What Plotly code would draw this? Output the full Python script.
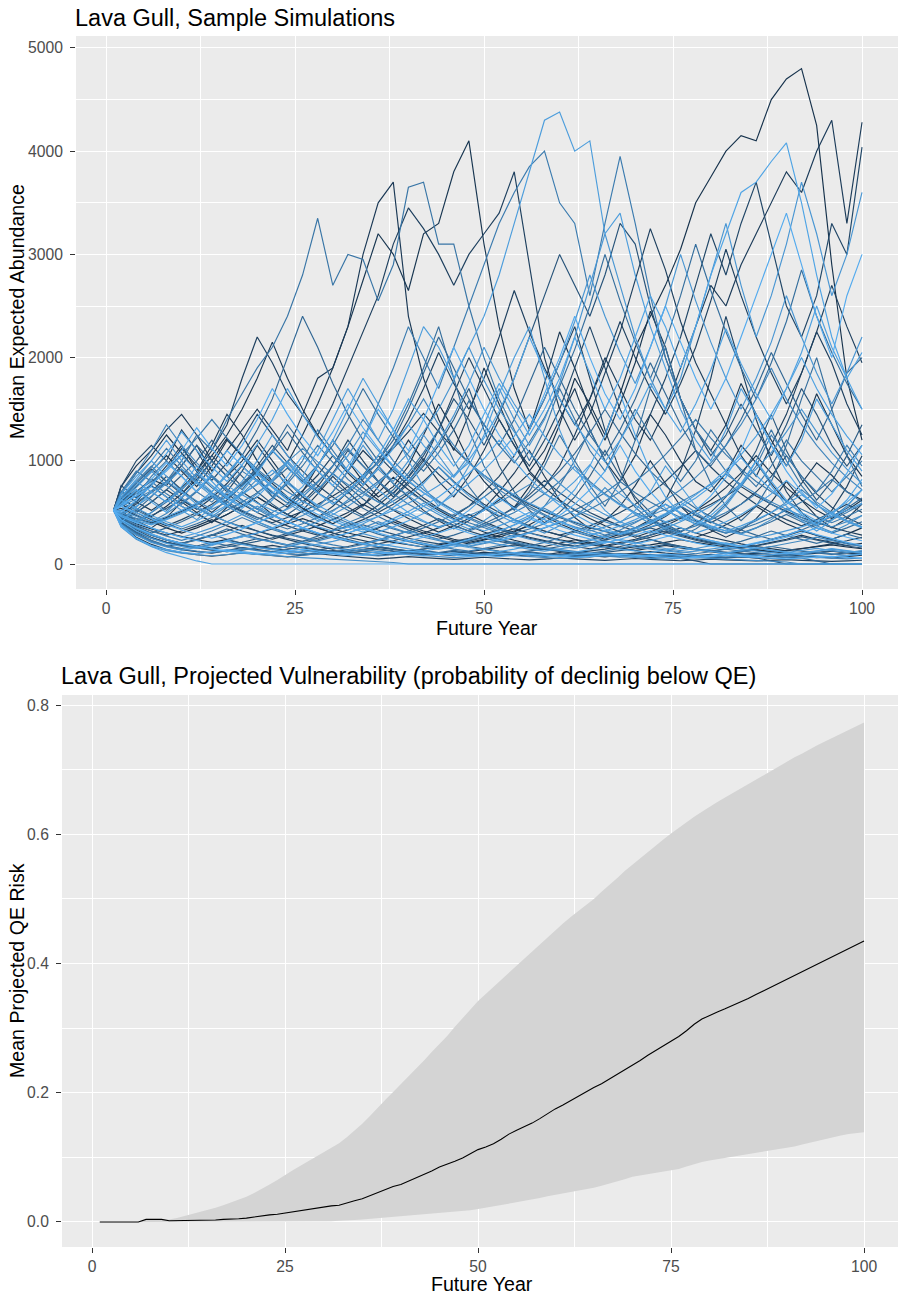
import plotly.graph_objects as go

# ---------------- data: sample simulations (top panel) ----------------
sim_years = [1, 2, 4, 6, 8, 10, 12, 14, 16, 18, 20, 22, 24, 26, 28, 30, 32, 34, 36, 38, 40,
             42, 44, 46, 48, 50, 52, 54, 56, 58, 60, 62, 64, 66, 68, 70, 72, 74, 76, 78, 80,
             82, 84, 86, 88, 90, 92, 94, 96, 98, 100]

sim_h01 = [520, 600, 750, 900, 1050, 900, 750, 950, 1200, 1050, 850,
           650, 550, 700, 950, 1200, 1000, 800, 650, 750, 950,
           1250, 1550, 1300, 1000, 800, 650, 550, 750, 1000, 1350,
           1800, 1550, 1250, 1650, 2100, 2400, 2700, 3050, 3500, 3750,
           4000, 4150, 4100, 4500, 4700, 4800, 4250, 2900, 1800, 1200]
sim_h02 = [520, 580, 700, 820, 760, 950, 1150, 900, 1100, 1300, 1500,
           1300, 1100, 1450, 1800, 1900, 2300, 3000, 3500, 3700, 2400,
           1800, 1400, 1100, 1450, 1900, 1550, 1200, 900, 1100, 1400,
           1700, 1300, 1000, 800, 1050, 1450, 1250, 1000, 800, 700,
           880, 1150, 980, 780, 600, 780, 980, 860, 700, 620]
sim_h03 = [520, 680, 880, 1050, 1250, 1080, 900, 1150, 1450, 1250, 1000,
           800, 980, 1250, 1550, 1900, 2300, 2750, 3200, 3000, 2650,
           3200, 3300, 3800, 4100, 3100, 2300, 1700, 1300, 1750, 2250,
           1900, 1500, 1200, 1550, 1950, 2450, 2100, 1600, 1300, 1100,
           1350, 1750, 1450, 1200, 950, 1250, 1650, 1350, 1050, 850]
sim_h04 = [520, 450, 600, 780, 950, 1150, 900, 1100, 1350, 1800, 2200,
           1950, 1650, 1450, 1250, 1550, 1900, 2250, 2600, 3100, 3450,
           3250, 3000, 2700, 3000, 3200, 3400, 3800, 2900, 2000, 1500,
           1200, 1450, 1850, 2250, 2750, 3250, 2850, 2350, 1950, 1650,
           1350, 1050, 850, 1150, 1450, 1850, 2250, 1950, 1550, 1250]
sim_h05 = [520, 620, 800, 950, 800, 1000, 1250, 1100, 1400, 1650, 1900,
           2100, 2400, 2800, 3350, 2700, 3000, 2950, 2550, 2900, 3650,
           3700, 3100, 3100, 2500, 2000, 1600, 1300, 1000, 1300, 1700,
           1400, 1100, 900, 1200, 1500, 1250, 1000, 800, 1000, 1300,
           1100, 900, 750, 950, 1200, 1000, 850, 700, 850, 1000]
sim_h06 = [520, 400, 550, 700, 600, 750, 950, 800, 650, 800, 1000,
           1250, 1050, 850, 1100, 1400, 1700, 1450, 1200, 1500, 1900,
           2300, 2100, 1800, 2100, 2400, 2800, 3300, 3800, 4300, 4380,
           4000, 4100, 3200, 3400, 2800, 2300, 1900, 1500, 1200, 1000,
           1300, 1700, 1450, 1150, 950, 1200, 1600, 1350, 1100, 900]
sim_h07 = [520, 700, 650, 850, 1000, 850, 700, 600, 750, 900, 800,
           650, 800, 1000, 1300, 1100, 900, 1200, 1550, 1900, 2300,
           2000, 1700, 2100, 2500, 2900, 3300, 3600, 3850, 4000, 3500,
           3300, 2600, 3300, 3950, 3300, 2600, 2000, 1600, 1300, 1100,
           900, 750, 950, 1250, 1050, 850, 700, 900, 1150, 950]
sim_h08 = [520, 500, 420, 350, 450, 600, 500, 400, 550, 700, 600,
           480, 400, 520, 680, 850, 700, 560, 750, 950, 1200,
           1000, 800, 650, 850, 1100, 1400, 1150, 900, 750, 950,
           1250, 1600, 2000, 1700, 1400, 1200, 1500, 1900, 2300, 2700,
           2500, 2900, 3200, 3500, 3800, 3600, 4000, 4300, 3300, 4280]
sim_h09 = [520, 750, 1000, 1150, 1000, 1300, 1100, 850, 700, 900, 1150,
           950, 750, 600, 750, 950, 1200, 1000, 800, 650, 800,
           1000, 1300, 1650, 2000, 1700, 1400, 1150, 950, 1200, 1500,
           1900, 2300, 1900, 1500, 1200, 1450, 1800, 2200, 2700, 3200,
           2800, 3300, 3700, 3100, 2500, 2200, 2600, 3300, 3000, 4040]
sim_h10 = [520, 580, 720, 600, 500, 650, 800, 680, 560, 700, 880,
           1100, 950, 780, 950, 1200, 1000, 850, 1050, 1300, 1600,
           1400, 1150, 950, 1150, 1450, 1750, 1500, 1250, 1500, 1800,
           2200, 1850, 1500, 1800, 2200, 2600, 2300, 1900, 2300, 2800,
           3200, 3600, 3700, 3900, 4080, 3500, 2800, 2200, 1800, 1500]
sim_h11 = [520, 480, 400, 500, 620, 520, 430, 550, 700, 600, 500,
           620, 800, 680, 550, 700, 900, 1150, 950, 800, 1000,
           1250, 1050, 850, 1050, 1350, 1700, 1400, 1150, 1400, 1750,
           2200, 2700, 3200, 2700, 2200, 1800, 1500, 1800, 2300, 2800,
           3300, 2700, 2200, 2600, 3100, 3700, 3200, 2600, 3000, 3600]
sim_h12 = [520, 620, 780, 920, 800, 680, 850, 1050, 900, 750, 950,
           1150, 980, 820, 700, 880, 1100, 950, 800, 680, 850,
           1050, 1300, 1600, 1400, 1150, 1450, 1800, 2200, 2600, 3000,
           2700, 2400, 2800, 3300, 3100, 2500, 2000, 1600, 1300, 1050,
           1250, 1550, 1300, 1050, 1350, 1700, 1450, 1150, 950, 1150]
sim_h13 = [520, 560, 680, 820, 980, 850, 700, 880, 1100, 950, 800,
           680, 850, 1050, 900, 760, 950, 1200, 1500, 1300, 1100,
           1400, 1750, 2100, 1800, 1500, 1250, 1050, 1300, 1650, 2000,
           2400, 2000, 1650, 1400, 1700, 2100, 2500, 2150, 1800, 1500,
           1800, 2200, 2600, 3000, 3400, 2900, 2400, 2000, 2600, 3000]
sim_h14 = [520, 440, 520, 650, 800, 950, 1150, 1000, 850, 1050, 1300,
           1600, 2000, 2400, 2100, 1750, 1450, 1200, 1000, 1200, 1500,
           1850, 2200, 1900, 1600, 1350, 1150, 1400, 1750, 2100, 1800,
           1500, 1250, 1050, 1300, 1600, 1950, 1650, 1350, 1100, 950,
           1150, 1400, 1700, 2050, 1750, 1450, 1200, 1500, 1850, 2000]

sim_m01 = [520, 750, 950, 1100, 1300, 1450, 1250, 1000, 850, 1000, 1200,
           1000, 800, 650, 550, 700, 900, 1100, 950, 780, 650,
           520, 420, 340, 420, 540, 700, 880, 1100, 850, 620,
           450, 340, 420, 560, 760, 1000, 780, 560, 420, 330,
           260, 330, 440, 600, 800, 620, 460, 350, 440, 580]
sim_m02 = [520, 680, 850, 1000, 850, 700, 580, 700, 880, 1050, 900,
           750, 620, 750, 950, 1200, 1500, 1800, 1550, 1300, 1000,
           750, 560, 700, 950, 1250, 1650, 2000, 2300, 1800, 1300,
           950, 700, 520, 400, 520, 700, 950, 750, 560, 430,
           560, 760, 1000, 760, 560, 420, 320, 420, 560, 720]
sim_m03 = [520, 600, 720, 620, 520, 640, 800, 1000, 850, 720, 900,
           1100, 1350, 1150, 950, 800, 680, 820, 1000, 1250, 1550,
           1900, 2300, 1800, 1300, 950, 700, 520, 700, 950, 1250,
           1000, 760, 560, 800, 1200, 1700, 2100, 1600, 1100, 780,
           560, 420, 560, 800, 1150, 1600, 2000, 1500, 1050, 750]
sim_m04 = [520, 480, 580, 700, 850, 720, 600, 500, 620, 760, 900,
           780, 650, 540, 450, 560, 700, 860, 1050, 900, 760,
           640, 540, 460, 560, 700, 850, 1050, 1300, 1600, 1950,
           2300, 1800, 1300, 900, 620, 450, 620, 900, 1300, 1800,
           2400, 1900, 1400, 1000, 700, 500, 380, 520, 750, 1050]
sim_m05 = [520, 560, 660, 780, 900, 1050, 900, 760, 640, 540, 650,
           800, 980, 820, 690, 580, 700, 860, 720, 600, 500,
           420, 350, 420, 520, 650, 520, 420, 350, 440, 560,
           720, 950, 1250, 1650, 1250, 900, 650, 480, 380, 470,
           600, 780, 1000, 800, 620, 480, 380, 480, 620, 820]
sim_m06 = [520, 420, 500, 600, 720, 860, 1000, 1200, 1000, 850, 700,
           580, 480, 580, 720, 880, 750, 630, 520, 640, 780,
           950, 1150, 1400, 1700, 1300, 950, 700, 520, 400, 500,
           650, 850, 1100, 850, 650, 500, 390, 310, 390, 500,
           650, 850, 1100, 1450, 1100, 820, 620, 800, 1050, 1350]
sim_m07 = [520, 620, 760, 900, 760, 640, 540, 460, 560, 680, 820,
           700, 590, 500, 420, 510, 620, 760, 920, 780, 660,
           560, 480, 400, 340, 420, 520, 430, 360, 300, 370,
           460, 580, 740, 600, 480, 390, 480, 600, 500, 410,
           340, 290, 350, 430, 540, 450, 370, 310, 380, 470]
sim_m08 = [520, 700, 900, 800, 680, 580, 700, 850, 720, 620, 530,
           640, 780, 950, 1150, 980, 820, 700, 600, 720, 880,
           1080, 1300, 1000, 750, 560, 420, 330, 420, 560, 760,
           1000, 1300, 1000, 740, 550, 420, 330, 270, 340, 440,
           580, 760, 1000, 1300, 1000, 760, 580, 450, 560, 720]
sim_m09 = [520, 640, 540, 460, 560, 680, 820, 1000, 1220, 1040, 880,
           750, 640, 540, 460, 390, 470, 570, 690, 840, 720,
           610, 520, 440, 370, 310, 260, 310, 380, 460, 390,
           330, 280, 240, 290, 350, 430, 360, 300, 260, 310,
           380, 460, 560, 470, 390, 330, 280, 240, 290, 350]
sim_m10 = [520, 500, 620, 760, 920, 1100, 1320, 1120, 950, 1150, 1400,
           1700, 1450, 1230, 1050, 1280, 1550, 1320, 1120, 950, 810,
           690, 590, 500, 430, 520, 640, 540, 460, 390, 470,
           580, 720, 900, 1150, 900, 700, 540, 420, 520, 660,
           840, 1100, 1450, 1150, 900, 700, 540, 680, 880, 1150]
sim_m11 = [520, 760, 640, 760, 920, 1120, 950, 810, 980, 1200, 1450,
           1250, 1050, 900, 760, 650, 550, 470, 570, 690, 840,
           1020, 870, 740, 630, 540, 460, 550, 670, 810, 690,
           590, 500, 430, 370, 320, 380, 460, 560, 470, 400,
           480, 580, 700, 850, 1050, 850, 680, 550, 450, 380]
sim_m12 = [520, 560, 480, 410, 490, 590, 710, 860, 730, 620, 530,
           450, 540, 650, 790, 950, 1150, 1400, 1200, 1000, 850,
           720, 610, 520, 440, 370, 320, 380, 450, 540, 460,
           390, 330, 280, 330, 400, 480, 580, 490, 410, 350,
           300, 350, 420, 500, 600, 720, 600, 500, 420, 360]

sim_x01 = [520, 650, 800, 700, 600, 720, 880, 760, 650, 560, 680,
           820, 1000, 850, 720, 870, 1050, 1280, 1100, 940, 800,
           970, 1180, 1440, 1750, 2100, 1800, 1550, 1330, 1600, 1950,
           2350, 2800, 2400, 2050, 1750, 2100, 2500, 3000, 2550, 2150,
           1800, 1500, 1800, 2150, 2600, 2200, 1850, 1550, 1850, 2200]
sim_x02 = [520, 580, 500, 600, 720, 620, 530, 640, 780, 950, 810,
           690, 590, 710, 860, 1050, 900, 770, 940, 1150, 1400,
           1700, 2050, 1750, 1500, 1800, 2200, 2650, 2250, 1900, 1600,
           1350, 1600, 1950, 2350, 2000, 1700, 1450, 1750, 2100, 2550,
           3050, 2600, 2200, 1850, 1550, 1850, 2250, 2700, 2300, 1950]
sim_x03 = [520, 500, 420, 500, 600, 720, 870, 740, 630, 760, 920,
           1100, 940, 800, 960, 1150, 1400, 1700, 1450, 1230, 1050,
           900, 1080, 1300, 1580, 1350, 1150, 980, 1180, 1420, 1720,
           2080, 2500, 3000, 2550, 2150, 1800, 2150, 2600, 3100, 2650,
           2250, 1900, 1600, 1950, 2350, 2850, 2400, 2050, 1750, 1500]
sim_x04 = [520, 620, 740, 890, 1070, 1280, 1100, 940, 800, 960, 1160,
           1400, 1700, 1450, 1230, 1050, 900, 770, 930, 1120, 1350,
           1150, 980, 840, 1010, 1220, 1480, 1800, 2200, 1870, 1600,
           1360, 1160, 990, 1200, 1450, 1750, 1500, 1280, 1550, 1880,
           2280, 1940, 1650, 1400, 1700, 2050, 2500, 2100, 1800, 2050]

sim_n01 = [520, 470, 420, 380, 430, 490, 560, 480, 410, 350, 400,
           460, 530, 610, 520, 440, 380, 330, 380, 440, 510,
           590, 500, 430, 370, 320, 370, 430, 500, 430, 370,
           320, 280, 320, 370, 430, 500, 580, 500, 430, 370,
           320, 370, 430, 500, 580, 670, 570, 490, 420, 360]
sim_n02 = [520, 600, 520, 450, 390, 340, 390, 450, 520, 600, 690,
           800, 930, 800, 690, 600, 520, 450, 390, 340, 300,
           350, 410, 480, 560, 650, 760, 650, 560, 480, 410,
           350, 300, 260, 300, 350, 410, 480, 560, 480, 410,
           350, 300, 350, 410, 480, 410, 350, 300, 350, 410]
sim_n03 = [520, 440, 370, 320, 280, 320, 370, 430, 370, 320, 280,
           240, 280, 320, 370, 430, 500, 580, 500, 430, 370,
           320, 280, 240, 210, 240, 280, 320, 370, 320, 280,
           240, 210, 180, 210, 240, 280, 320, 280, 240, 210,
           180, 160, 180, 210, 240, 280, 240, 210, 180, 200]
sim_n04 = [520, 580, 660, 750, 650, 560, 480, 560, 650, 750, 870,
           750, 650, 560, 480, 420, 360, 310, 360, 420, 480,
           560, 650, 760, 880, 1020, 1200, 1000, 830, 690, 570,
           480, 400, 340, 290, 340, 400, 470, 550, 640, 750,
           880, 1030, 860, 720, 600, 500, 420, 500, 600, 720]
sim_n05 = [520, 460, 410, 470, 540, 620, 540, 470, 410, 360, 320,
           280, 250, 220, 250, 290, 330, 380, 330, 290, 250,
           220, 195, 220, 250, 290, 330, 290, 250, 220, 195,
           175, 200, 230, 265, 305, 350, 305, 265, 230, 200,
           175, 155, 175, 200, 230, 265, 230, 200, 175, 155]
sim_n06 = [520, 380, 280, 210, 165, 135, 160, 190, 230, 275, 240,
           210, 185, 165, 190, 220, 255, 295, 255, 220, 190,
           165, 145, 165, 190, 220, 190, 165, 145, 125, 145,
           165, 190, 220, 190, 165, 145, 125, 110, 125, 145,
           165, 145, 125, 110, 95, 110, 125, 145, 125, 110]
sim_n07 = [520, 520, 600, 690, 800, 920, 800, 690, 600, 520, 450,
           390, 340, 390, 450, 520, 600, 690, 800, 920, 800,
           690, 600, 520, 450, 390, 340, 300, 340, 390, 450,
           520, 600, 690, 800, 690, 600, 520, 450, 390, 340,
           300, 340, 390, 450, 520, 600, 700, 820, 700, 600]
sim_n08 = [520, 400, 310, 250, 210, 180, 155, 135, 120, 135, 155,
           180, 155, 135, 120, 105, 120, 140, 160, 140, 120,
           105, 92, 105, 120, 140, 160, 185, 160, 140, 120,
           105, 92, 80, 92, 105, 120, 105, 92, 80, 70,
           80, 92, 105, 92, 80, 70, 62, 70, 80, 92]
sim_n09 = [520, 460, 400, 350, 300, 260, 225, 195, 225, 260, 300,
           350, 410, 350, 300, 260, 225, 195, 170, 195, 225,
           260, 300, 350, 300, 260, 225, 260, 300, 350, 410,
           350, 300, 260, 225, 195, 225, 260, 300, 260, 225,
           195, 170, 195, 225, 260, 300, 350, 300, 260, 225]
sim_n10 = [520, 640, 780, 940, 1120, 950, 800, 680, 580, 500, 430,
           500, 580, 680, 800, 950, 1120, 950, 800, 680, 580,
           500, 430, 370, 320, 370, 430, 500, 580, 680, 800,
           950, 800, 680, 580, 500, 430, 370, 320, 370, 430,
           500, 580, 680, 580, 500, 430, 370, 430, 500, 580]
sim_n11 = [520, 580, 500, 430, 370, 430, 500, 580, 680, 580, 500,
           430, 370, 320, 280, 320, 370, 430, 500, 580, 680,
           800, 940, 800, 680, 580, 500, 430, 370, 320, 280,
           320, 370, 430, 500, 580, 680, 800, 940, 1100, 940,
           800, 680, 580, 500, 430, 370, 430, 500, 580, 500]
sim_n12 = [520, 420, 340, 280, 230, 190, 160, 140, 120, 140, 160,
           140, 120, 105, 92, 105, 120, 140, 120, 105, 92,
           80, 70, 62, 70, 80, 92, 80, 70, 62, 55,
           62, 70, 80, 70, 62, 55, 48, 55, 62, 55,
           48, 42, 36, 30, 20, 0, 0, 0, 0, 0]

sim_p01 = [520, 650, 820, 1000, 1200, 1000, 830, 700, 860, 1050, 880,
           740, 620, 520, 440, 380, 330, 390, 460, 550, 650,
           780, 940, 790, 660, 560, 470, 400, 470, 560, 670,
           800, 960, 810, 680, 570, 480, 410, 350, 300, 350,
           410, 480, 570, 680, 810, 680, 570, 480, 410, 350]
sim_p02 = [520, 430, 360, 300, 350, 410, 480, 560, 660, 780, 920,
           1080, 1280, 1080, 900, 760, 640, 540, 460, 390, 330,
           280, 240, 280, 330, 390, 460, 540, 640, 760, 900,
           1070, 1270, 1500, 1270, 1070, 900, 760, 640, 540, 460,
           390, 330, 280, 240, 280, 330, 390, 460, 540, 640]
sim_p03 = [520, 360, 250, 180, 140, 115, 100, 118, 140, 120, 104,
           92, 108, 128, 110, 96, 84, 100, 118, 102, 90,
           78, 92, 108, 94, 82, 72, 85, 100, 88, 76,
           90, 106, 92, 80, 70, 82, 96, 84, 74, 86,
           100, 88, 77, 90, 105, 92, 80, 70, 82, 96]
sim_p04 = [520, 700, 600, 520, 620, 740, 880, 1050, 1250, 1500, 1800,
           2150, 1800, 1500, 1250, 1050, 880, 740, 620, 520, 440,
           370, 310, 370, 440, 520, 620, 740, 880, 740, 620,
           520, 440, 370, 310, 260, 310, 370, 440, 520, 620,
           740, 880, 1050, 880, 740, 620, 520, 440, 520, 620]
sim_p05 = [520, 480, 560, 660, 780, 920, 780, 660, 560, 480, 410,
           350, 300, 350, 410, 480, 560, 660, 780, 920, 1080,
           1280, 1500, 1780, 2100, 1780, 1500, 1280, 1080, 920, 780,
           660, 560, 480, 410, 350, 300, 350, 410, 480, 560,
           660, 780, 920, 1080, 1280, 1500, 1280, 1080, 920, 780]
sim_p06 = [520, 380, 280, 215, 170, 200, 240, 285, 240, 200, 170,
           145, 170, 200, 235, 275, 235, 200, 170, 145, 125,
           145, 170, 200, 170, 145, 125, 108, 125, 145, 170,
           200, 235, 275, 320, 275, 235, 200, 170, 145, 125,
           108, 125, 145, 170, 145, 125, 108, 93, 108, 125]
sim_p07 = [520, 620, 540, 470, 410, 360, 420, 490, 570, 670, 780,
           910, 780, 670, 570, 490, 420, 360, 310, 360, 420,
           490, 570, 670, 780, 910, 1060, 1240, 1450, 1240, 1060,
           910, 780, 670, 570, 490, 420, 490, 570, 670, 780,
           910, 1060, 1240, 1450, 1700, 2000, 1700, 1450, 1240, 1060]
sim_p08 = [520, 420, 340, 280, 235, 200, 235, 275, 320, 375, 320,
           275, 235, 200, 170, 145, 170, 200, 235, 275, 320,
           375, 440, 375, 320, 275, 235, 200, 170, 145, 125,
           108, 125, 145, 170, 200, 235, 200, 170, 145, 125,
           145, 170, 200, 235, 275, 320, 275, 235, 200, 170]
sim_p09 = [520, 560, 630, 710, 800, 700, 610, 530, 600, 680, 770,
           870, 990, 1120, 990, 870, 770, 680, 600, 530, 470,
           410, 360, 410, 470, 530, 600, 680, 770, 680, 600,
           530, 470, 410, 360, 410, 470, 530, 600, 680, 770,
           870, 770, 680, 600, 530, 470, 410, 360, 410, 470]
sim_p10 = [520, 480, 440, 400, 450, 510, 580, 660, 580, 510, 450,
           400, 450, 510, 580, 660, 750, 860, 980, 1120, 1280,
           1460, 1280, 1120, 980, 860, 750, 660, 580, 510, 450,
           400, 355, 315, 280, 315, 355, 400, 450, 510, 580,
           660, 750, 660, 580, 510, 450, 400, 355, 315, 280]
sim_p11 = [520, 430, 350, 290, 240, 200, 170, 145, 125, 110, 96,
           110, 125, 145, 125, 110, 96, 84, 96, 110, 125,
           110, 96, 84, 74, 84, 96, 110, 96, 84, 74,
           65, 74, 84, 96, 84, 74, 65, 57, 65, 74,
           84, 74, 65, 57, 50, 57, 65, 74, 65, 57]
sim_p12 = [520, 600, 700, 800, 920, 1060, 1220, 1400, 1220, 1060, 920,
           800, 700, 610, 530, 460, 400, 460, 530, 610, 700,
           610, 530, 460, 400, 350, 305, 265, 305, 350, 400,
           460, 530, 610, 700, 800, 920, 1060, 1220, 1400, 1220,
           1060, 920, 800, 700, 610, 530, 460, 400, 460, 530]
sim_p13 = [520, 450, 390, 340, 300, 265, 235, 210, 235, 265, 300,
           340, 390, 440, 390, 340, 300, 265, 235, 210, 185,
           165, 185, 210, 235, 265, 300, 340, 300, 265, 235,
           210, 185, 165, 148, 165, 185, 210, 235, 210, 185,
           165, 148, 132, 118, 132, 148, 165, 185, 165, 148]
sim_p14 = [520, 520, 460, 410, 460, 520, 590, 670, 760, 670, 590,
           520, 460, 410, 360, 320, 360, 410, 460, 520, 590,
           670, 760, 860, 980, 860, 760, 670, 590, 520, 460,
           410, 360, 320, 285, 320, 360, 410, 460, 410, 360,
           320, 285, 255, 285, 320, 360, 410, 460, 520, 590]
sim_p15 = [520, 400, 310, 250, 210, 180, 160, 145, 165, 190, 220,
           255, 295, 340, 295, 255, 220, 190, 165, 145, 128,
           145, 165, 190, 220, 255, 220, 190, 165, 145, 128,
           113, 100, 113, 128, 145, 165, 190, 165, 145, 128,
           113, 100, 88, 78, 88, 100, 113, 128, 113, 100]
sim_p16 = [520, 680, 880, 1100, 1350, 1150, 980, 840, 720, 620, 540,
           470, 410, 470, 540, 620, 720, 840, 980, 1150, 1350,
           1600, 1350, 1150, 980, 840, 720, 620, 540, 470, 410,
           360, 320, 360, 410, 470, 540, 620, 720, 840, 980,
           1150, 1350, 1600, 1900, 1600, 1350, 1150, 980, 840, 720]

sim_l01 = [520, 380, 250, 170, 110, 70, 30, 0, 0, 0, 0,
           0, 0, 0, 0, 0, 0, 0, 0, 0, 0,
           0, 0, 0, 0, 0, 0, 0, 0, 0, 0,
           0, 0, 0, 0, 0, 0, 0, 0, 0, 0,
           0, 0, 0, 0, 0, 0, 0, 0, 0, 0]
sim_l02 = [520, 400, 290, 220, 170, 140, 120, 105, 130, 160, 140,
           120, 100, 90, 110, 130, 115, 100, 85, 100, 120,
           105, 90, 80, 95, 115, 100, 85, 75, 90, 110,
           95, 80, 70, 85, 100, 90, 75, 65, 80, 95,
           80, 70, 60, 75, 90, 78, 66, 58, 70, 85]
sim_l03 = [520, 420, 320, 250, 200, 170, 150, 180, 220, 190, 160,
           140, 170, 210, 180, 155, 135, 160, 195, 170, 145,
           125, 150, 185, 160, 140, 120, 145, 175, 150, 130,
           115, 140, 170, 145, 125, 110, 135, 165, 140, 120,
           105, 130, 160, 135, 115, 100, 125, 150, 130, 110]
sim_l04 = [520, 450, 360, 290, 240, 200, 230, 280, 340, 290, 250,
           215, 185, 220, 270, 330, 400, 340, 290, 250, 215,
           185, 160, 190, 230, 280, 240, 205, 175, 210, 255,
           310, 265, 225, 195, 230, 280, 340, 290, 250, 215,
           185, 220, 265, 320, 275, 235, 200, 240, 290, 250]
sim_l05 = [520, 380, 260, 190, 140, 110, 90, 75, 90, 110, 95,
           80, 70, 85, 100, 85, 72, 60, 50, 60, 72,
           62, 52, 45, 55, 66, 56, 48, 40, 48, 58,
           50, 42, 36, 44, 53, 45, 38, 32, 39, 47,
           40, 34, 29, 35, 42, 36, 30, 26, 31, 37]
sim_l06 = [520, 460, 380, 320, 270, 230, 270, 320, 380, 450, 390,
           335, 290, 250, 215, 185, 160, 190, 225, 265, 230,
           200, 170, 145, 125, 150, 180, 215, 185, 160, 140,
           120, 105, 125, 150, 180, 155, 135, 115, 100, 120,
           145, 125, 108, 93, 80, 96, 115, 99, 85, 100]
sim_l07 = [520, 430, 330, 260, 210, 180, 160, 190, 230, 200, 175,
           150, 130, 115, 135, 160, 140, 120, 105, 90, 108,
           130, 112, 97, 84, 100, 120, 104, 90, 78, 94,
           80, 70, 84, 100, 86, 74, 64, 55, 30, 0,
           0, 0, 0, 0, 0, 0, 0, 0, 0, 0]
sim_l08 = [520, 480, 410, 350, 300, 260, 300, 350, 410, 480, 560,
           480, 410, 350, 300, 260, 225, 195, 230, 270, 320,
           275, 235, 200, 175, 205, 240, 280, 240, 205, 175,
           150, 175, 205, 240, 205, 175, 150, 130, 150, 175,
           205, 175, 150, 130, 112, 130, 152, 130, 112, 130]
sim_l09 = [520, 540, 470, 410, 350, 300, 350, 410, 480, 560, 650,
           560, 480, 410, 350, 300, 260, 300, 350, 410, 350,
           300, 260, 225, 195, 230, 270, 230, 195, 170, 200,
           235, 200, 175, 150, 130, 155, 180, 155, 135, 115,
           100, 118, 140, 120, 104, 90, 106, 125, 108, 94]
sim_l10 = [520, 410, 300, 230, 180, 150, 175, 210, 180, 155, 135,
           118, 140, 165, 142, 122, 105, 125, 148, 128, 110,
           95, 112, 132, 114, 98, 85, 100, 118, 102, 88,
           76, 90, 106, 92, 80, 70, 82, 96, 84, 72,
           62, 74, 88, 76, 66, 57, 30, 0, 0, 0]
sim_l11 = [520, 560, 500, 440, 380, 330, 290, 250, 290, 340, 400,
           470, 410, 350, 300, 260, 300, 350, 300, 260, 225,
           195, 170, 200, 235, 275, 320, 375, 440, 380, 325,
           280, 240, 205, 240, 280, 325, 280, 240, 205, 175,
           150, 175, 205, 240, 280, 330, 285, 245, 210, 180]
sim_l12 = [520, 440, 350, 280, 230, 200, 175, 155, 180, 210, 245,
           210, 180, 155, 135, 118, 138, 160, 138, 120, 104,
           90, 105, 122, 106, 92, 80, 94, 110, 95, 83,
           72, 85, 100, 86, 75, 65, 76, 90, 78, 68,
           59, 68, 60, 30, 0, 0, 0, 0, 0, 0]
sim_l13 = [520, 500, 440, 390, 440, 500, 570, 650, 560, 480, 410,
           350, 300, 260, 225, 260, 300, 350, 410, 350, 300,
           260, 225, 195, 170, 195, 225, 260, 300, 260, 225,
           195, 225, 260, 300, 350, 410, 350, 300, 260, 225,
           195, 170, 148, 170, 195, 225, 260, 225, 195, 170]
sim_l14 = [520, 360, 240, 170, 130, 105, 90, 80, 92, 106, 92,
           80, 70, 62, 55, 48, 42, 36, 28, 15, 0,
           0, 0, 0, 0, 0, 0, 0, 0, 0, 0,
           0, 0, 0, 0, 0, 0, 0, 0, 0, 0,
           0, 0, 0, 0, 0, 0, 0, 0, 0, 0]
sim_l15 = [520, 600, 680, 760, 650, 560, 480, 410, 480, 560, 650,
           560, 480, 410, 350, 300, 260, 225, 195, 225, 260,
           300, 350, 410, 480, 410, 350, 300, 260, 225, 195,
           170, 148, 170, 195, 225, 260, 300, 350, 300, 260,
           225, 195, 170, 148, 128, 148, 170, 195, 225, 260]
sim_l16 = [520, 390, 290, 220, 175, 145, 125, 110, 128, 150, 130,
           113, 98, 86, 100, 117, 102, 89, 78, 91, 106,
           124, 108, 94, 82, 96, 112, 98, 85, 74, 86,
           100, 88, 77, 67, 78, 91, 80, 70, 61, 71,
           83, 72, 63, 55, 64, 75, 65, 57, 50, 58]

simulations = [sim_h01, sim_h02, sim_h03, sim_h04, sim_h05, sim_h06, sim_h07, sim_h08,
               sim_h09, sim_h10, sim_h11, sim_h12, sim_h13, sim_h14,
               sim_m01, sim_m02, sim_m03, sim_m04, sim_m05, sim_m06, sim_m07, sim_m08,
               sim_m09, sim_m10, sim_m11, sim_m12,
               sim_x01, sim_x02, sim_x03, sim_x04,
               sim_n01, sim_n02, sim_n03, sim_n04, sim_n05, sim_n06, sim_n07, sim_n08,
               sim_n09, sim_n10, sim_n11, sim_n12,
               sim_p01, sim_p02, sim_p03, sim_p04, sim_p05, sim_p06, sim_p07, sim_p08,
               sim_p09, sim_p10, sim_p11, sim_p12, sim_p13, sim_p14, sim_p15, sim_p16,
               sim_l01, sim_l02, sim_l03, sim_l04, sim_l05, sim_l06, sim_l07, sim_l08,
               sim_l09, sim_l10, sim_l11, sim_l12, sim_l13, sim_l14, sim_l15, sim_l16]
# continuous colour variable per simulation (0 = dark navy, 1 = light blue)
sim_shade = [0.05, 0.10, 0.08, 0.15, 0.55, 0.85, 0.60, 0.12, 0.20, 0.90, 0.80, 0.30, 0.95, 0.45,
             0.10, 0.85, 0.50, 0.18, 0.90, 0.35, 0.75, 0.55, 0.05, 0.95, 0.22, 0.65,
             0.80, 0.15, 0.50, 0.88,
             0.85, 0.50, 0.10, 0.90, 0.30, 0.80, 0.55, 0.15, 0.95, 0.60, 0.20, 0.70,
             0.85, 0.45, 0.92, 0.08, 0.78, 0.40, 0.88, 0.20, 0.70, 0.12, 0.98, 0.58,
             0.03, 0.82, 0.35, 0.68,
             0.90, 0.10, 0.85, 0.50, 0.15, 0.60, 0.25, 0.80, 0.05, 0.45, 0.95, 0.30, 0.70,
             0.75, 0.12, 0.65]

# ---------------- data: projected vulnerability (bottom panel) ----------------
risk_years = list(range(1, 101))
risk_mean = [0, 0, 0, 0, 0, 0, 0.004, 0.004, 0.004, 0.002,
             0.002, 0.002, 0.002, 0.002, 0.003, 0.003, 0.004, 0.004, 0.005, 0.006,
             0.008, 0.009, 0.011, 0.012, 0.014, 0.016, 0.018, 0.020, 0.022, 0.024,
             0.025, 0.026, 0.030, 0.033, 0.036, 0.041, 0.046, 0.050, 0.055, 0.058,
             0.063, 0.068, 0.073, 0.079, 0.085, 0.089, 0.094, 0.099, 0.106, 0.112,
             0.116, 0.121, 0.128, 0.136, 0.142, 0.147, 0.153, 0.160, 0.168, 0.175,
             0.181, 0.188, 0.195, 0.201, 0.208, 0.214, 0.221, 0.229, 0.236, 0.243,
             0.250, 0.258, 0.265, 0.272, 0.280, 0.287, 0.296, 0.306, 0.314, 0.320,
             0.325, 0.330, 0.335, 0.340, 0.346, 0.352, 0.358, 0.364, 0.370, 0.376,
             0.382, 0.388, 0.394, 0.400, 0.406, 0.412, 0.418, 0.424, 0.429, 0.435]
risk_upper = [0, 0, 0, 0, 0, 0, 0.004, 0.004, 0.004, 0.004,
              0.006, 0.009, 0.012, 0.015, 0.019, 0.022, 0.026, 0.030, 0.034, 0.039,
              0.045, 0.051, 0.058, 0.065, 0.073, 0.080, 0.087, 0.094, 0.100, 0.107,
              0.114, 0.122, 0.131, 0.141, 0.152, 0.164, 0.177, 0.189, 0.201, 0.213,
              0.225, 0.238, 0.250, 0.263, 0.275, 0.288, 0.302, 0.315, 0.329, 0.342,
              0.353, 0.364, 0.375, 0.386, 0.396, 0.407, 0.418, 0.430, 0.441, 0.452,
              0.462, 0.472, 0.481, 0.491, 0.500, 0.511, 0.521, 0.532, 0.543, 0.553,
              0.563, 0.573, 0.583, 0.592, 0.601, 0.610, 0.619, 0.627, 0.635, 0.643,
              0.650, 0.657, 0.664, 0.670, 0.677, 0.684, 0.692, 0.699, 0.706, 0.713,
              0.719, 0.725, 0.732, 0.738, 0.744, 0.750, 0.756, 0.762, 0.768, 0.773]
risk_lower = [0, 0, 0, 0, 0, 0, 0, 0, 0, 0,
              0, 0, 0, 0, 0, 0, 0, 0, 0, 0,
              0, 0, 0, 0, 0, 0, 0, 0, 0, 0,
              0.001, 0.002, 0.002, 0.003, 0.004, 0.005, 0.006, 0.007, 0.008, 0.008,
              0.009, 0.010, 0.011, 0.012, 0.013, 0.014, 0.015, 0.016, 0.018, 0.020,
              0.022, 0.024, 0.026, 0.028, 0.031, 0.033, 0.035, 0.037, 0.040, 0.042,
              0.044, 0.046, 0.048, 0.051, 0.053, 0.056, 0.059, 0.062, 0.066, 0.070,
              0.072, 0.074, 0.076, 0.078, 0.079, 0.082, 0.086, 0.090, 0.093, 0.095,
              0.097, 0.099, 0.101, 0.103, 0.104, 0.106, 0.108, 0.110, 0.112, 0.114,
              0.117, 0.120, 0.123, 0.126, 0.129, 0.132, 0.134, 0.136, 0.138, 0.139]

x_ticks = [0, 25, 50, 75, 100]
top_y_ticks = [0, 1000, 2000, 3000, 4000, 5000]
bottom_y_ticks = [0.0, 0.2, 0.4, 0.6, 0.8]
bottom_y_labels = ["0.0", "0.2", "0.4", "0.6", "0.8"]

for s in simulations:
    assert len(s) == len(sim_years), len(s)
assert len(sim_shade) == len(simulations)
for s in (risk_mean, risk_upper, risk_lower):
    assert len(s) == len(risk_years), len(s)

# ---------------- styling ----------------
W, H = 898, 1297
FONT = "Liberation Sans, Arial, sans-serif"
LOW = (19, 43, 67)      # #132B43
HIGH = (86, 177, 247)   # #56B1F7


def px_x(x):
    return x / W


def px_y(y):
    return 1 - y / H


def shade_color(t):
    r, g, b = (round(LOW[i] + (HIGH[i] - LOW[i]) * t) for i in range(3))
    return f"rgb({r},{g},{b})"


fig = go.Figure()

# draw dark simulations first, lighter ones on top
order = sorted(range(len(simulations)), key=lambda i: sim_shade[i])
for i in order:
    fig.add_trace(go.Scatter(x=sim_years, y=simulations[i], mode="lines",
                             line=dict(color=shade_color(sim_shade[i]), width=1.15),
                             xaxis="x", yaxis="y", showlegend=False, hoverinfo="skip"))

fig.add_trace(go.Scatter(x=risk_years, y=risk_lower, mode="lines", line=dict(width=0),
                         xaxis="x2", yaxis="y2", showlegend=False, hoverinfo="skip"))
fig.add_trace(go.Scatter(x=risk_years, y=risk_upper, mode="lines", line=dict(width=0),
                         fill="tonexty", fillcolor="rgb(212,212,212)",
                         xaxis="x2", yaxis="y2", showlegend=False, hoverinfo="skip"))
fig.add_trace(go.Scatter(x=risk_years, y=risk_mean, mode="lines",
                         line=dict(color="black", width=1.1),
                         xaxis="x2", yaxis="y2", showlegend=False, hoverinfo="skip"))

tick_font = dict(family=FONT, size=15.7, color="#4D4D4D")
common_axis = dict(showgrid=True, gridcolor="white", gridwidth=1.2, zeroline=False,
                   ticks="outside", ticklen=5, tickwidth=1.1, tickcolor="#333333",
                   tickfont=tick_font, showline=False, fixedrange=True)


def minor(vals):
    return dict(tickvals=vals, showgrid=True, gridcolor="white", gridwidth=0.6, ticks="")


fig.update_layout(
    width=W, height=H,
    margin=dict(l=0, r=0, t=0, b=0),
    paper_bgcolor="white", plot_bgcolor="#EBEBEB",
    xaxis=dict(domain=[px_x(76), 1.0], range=[-3.97, 104.76], tickvals=x_ticks,
               minor=minor([12.5, 37.5, 62.5, 87.5]), anchor="y", **common_axis),
    yaxis=dict(domain=[px_y(589), px_y(36)], range=[-242, 5116], tickvals=top_y_ticks,
               minor=minor([500, 1500, 2500, 3500, 4500]), anchor="x",
               ticklabelstandoff=4, **common_axis),
    xaxis2=dict(domain=[px_x(62), 1.0], range=[-3.89, 104.4], tickvals=x_ticks,
                minor=minor([12.5, 37.5, 62.5, 87.5]), anchor="y2", **common_axis),
    yaxis2=dict(domain=[px_y(1247), px_y(695)], range=[-0.0387, 0.8155],
                tickvals=bottom_y_ticks, ticktext=bottom_y_labels,
                minor=minor([0.1, 0.3, 0.5, 0.7]), anchor="x2",
                ticklabelstandoff=4, **common_axis),
)

title_font = dict(family=FONT, size=23.5, color="black")
axis_title_font = dict(family=FONT, size=19.6, color="black")
annots = [
    dict(text="Lava Gull, Sample Simulations", x=px_x(73), y=px_y(18),
         xanchor="left", yanchor="middle", font=title_font),
    dict(text="Lava Gull, Projected Vulnerability (probability of declinig below QE)",
         x=px_x(59), y=px_y(676), xanchor="left", yanchor="middle", font=title_font),
    dict(text="Future Year", x=px_x(487), y=px_y(628), xanchor="center", yanchor="middle",
         font=axis_title_font),
    dict(text="Future Year", x=px_x(482), y=px_y(1284), xanchor="center", yanchor="middle",
         font=axis_title_font),
    dict(text="Median Expected Abundance", x=px_x(17), y=px_y(312), textangle=-90,
         xanchor="center", yanchor="middle", font=axis_title_font),
    dict(text="Mean Projected QE Risk", x=px_x(17), y=px_y(971), textangle=-90,
         xanchor="center", yanchor="middle", font=axis_title_font),
]
for a in annots:
    fig.add_annotation(xref="paper", yref="paper", showarrow=False, **a)

# remove the browser's default 8px body margin so the figure fills the window exactly
fig.write_html("out.html", config={"displayModeBar": False},
               post_script="document.body.style.margin='0px';")
